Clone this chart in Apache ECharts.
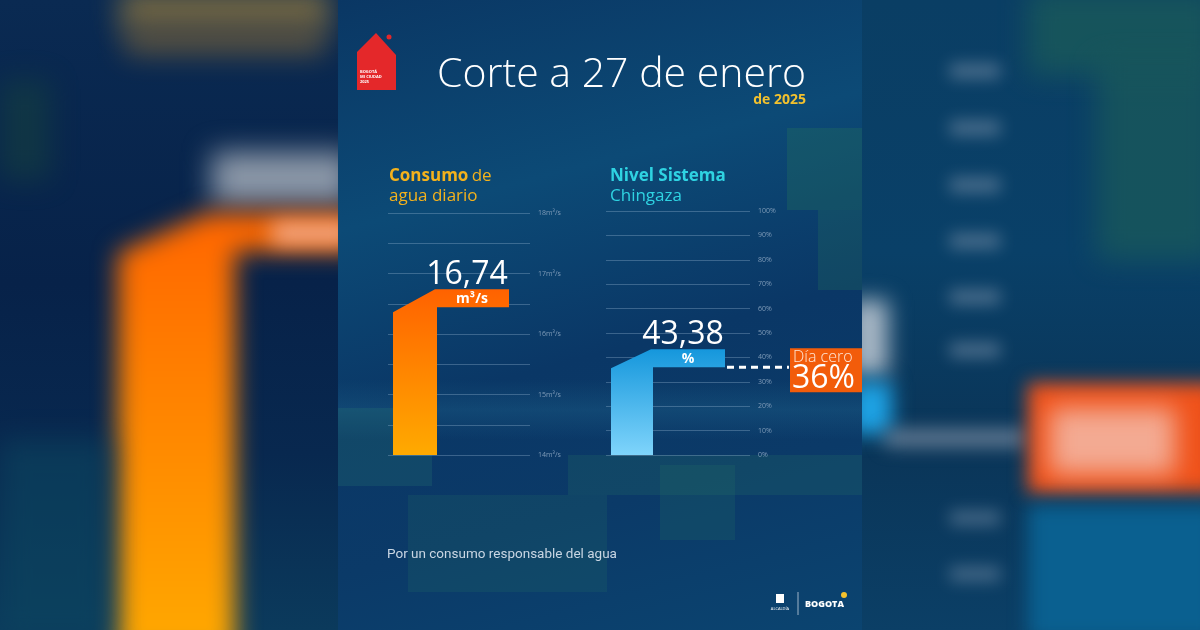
<!DOCTYPE html>
<html><head><meta charset="utf-8">
<script src="https://cdn.jsdelivr.net/npm/echarts/dist/echarts.min.js"></script>
<style>
html,body{margin:0;padding:0;width:1200px;height:630px;overflow:hidden;background:#07264b;}
#bg{position:absolute;left:0;top:0;width:1200px;height:630px;overflow:hidden;}
.a{position:absolute;}
.b{position:absolute;filter:blur(14px);}
#chart{position:absolute;left:0;top:0;width:1200px;height:630px;}
</style></head>
<body>
<div id="bg">
  <!-- left blurred side -->
  <div class="a" style="left:0;top:0;width:338px;height:630px;background:linear-gradient(180deg,#0a2a52 0%,#072249 45%,#08284f 72%,#0b3a5c 100%);"></div>
  <div class="b" style="left:0;top:80px;width:50px;height:100px;background:#15403f;opacity:.6"></div>
  <div class="b" style="left:120px;top:-10px;width:210px;height:40px;background:#8a7440;opacity:.8"></div>
  <div class="b" style="left:125px;top:28px;width:200px;height:26px;background:#6e5c3c;opacity:.8"></div>
  <div class="b" style="left:212px;top:152px;width:140px;height:52px;background:#8c98a8;"></div>
  <div class="b" style="left:0;top:0;width:338px;height:630px;filter:blur(12px)">
    <div class="a" style="left:118px;top:205px;width:240px;height:450px;background:linear-gradient(180deg,#ff6400 0%,#ff7a00 30%,#ffaa00 100%);clip-path:polygon(0px 48px,90px 8px,240px 8px,240px 46px,117px 46px,117px 450px,0px 450px);"></div>
  </div>
  <div class="b" style="left:272px;top:222px;width:80px;height:22px;background:#f2a886;filter:blur(10px)"></div>
  <div class="b" style="left:0;top:440px;width:110px;height:200px;background:#0c4660;opacity:.6"></div>
  <!-- right blurred side -->
  <div class="a" style="left:862px;top:0;width:338px;height:630px;background:linear-gradient(180deg,#0a3e64 0%,#094068 40%,#0a3558 70%,#0b3f66 100%);"></div>
  <div class="b" style="left:1028px;top:-10px;width:190px;height:85px;background:#1a5a5a;opacity:.8"></div>
  <div class="b" style="left:1097px;top:60px;width:120px;height:200px;background:#1a5a5a;opacity:.75"></div>
  <div class="b" style="left:950px;top:64px;width:50px;height:14px;background:#5f7d99;opacity:.8;filter:blur(8px)"></div>
  <div class="b" style="left:950px;top:121px;width:50px;height:14px;background:#5f7d99;opacity:.8;filter:blur(8px)"></div>
  <div class="b" style="left:950px;top:178px;width:50px;height:14px;background:#5f7d99;opacity:.8;filter:blur(8px)"></div>
  <div class="b" style="left:950px;top:234px;width:50px;height:14px;background:#5f7d99;opacity:.8;filter:blur(8px)"></div>
  <div class="b" style="left:950px;top:290px;width:50px;height:14px;background:#5f7d99;opacity:.8;filter:blur(8px)"></div>
  <div class="b" style="left:950px;top:343px;width:50px;height:14px;background:#5f7d99;opacity:.8;filter:blur(8px)"></div>
  <div class="b" style="left:950px;top:511px;width:50px;height:14px;background:#5f7d99;opacity:.7;filter:blur(8px)"></div>
  <div class="b" style="left:950px;top:567px;width:50px;height:14px;background:#5f7d99;opacity:.7;filter:blur(8px)"></div>
  <div class="b" style="left:850px;top:300px;width:38px;height:75px;background:#a9b8c6;filter:blur(11px)"></div>
  <div class="b" style="left:850px;top:382px;width:42px;height:52px;background:#1ea2e4;filter:blur(10px)"></div>
  <div class="b" style="left:885px;top:430px;width:140px;height:16px;background:#6a8098;filter:blur(9px)"></div>
  <div class="b" style="left:1028px;top:383px;width:190px;height:110px;background:#f0521a;filter:blur(9px)"></div>
  <div class="b" style="left:1050px;top:408px;width:125px;height:66px;background:#f3aa92;filter:blur(12px)"></div>
  <div class="b" style="left:1028px;top:505px;width:190px;height:135px;background:#0a6090;filter:blur(9px)"></div>
  <!-- center panel -->
  <div class="a" style="left:338px;top:0;width:524px;height:630px;background:linear-gradient(165deg,#0a3764 0%,#0c4a76 30%,#0a3766 55%,#0b3a68 75%,#0b4470 100%);"></div>
  <div class="a" style="left:338px;top:380px;width:524px;height:60px;background:linear-gradient(180deg,rgba(30,100,140,0) 0%,rgba(30,100,140,.35) 50%,rgba(30,100,140,0) 100%);"></div>
  <div class="a" style="left:787px;top:128px;width:75px;height:82px;background:rgba(40,120,90,.3)"></div>
  <div class="a" style="left:818px;top:210px;width:44px;height:80px;background:rgba(40,120,90,.25)"></div>
  <div class="a" style="left:338px;top:408px;width:94px;height:78px;background:rgba(40,120,110,.25)"></div>
  <div class="a" style="left:568px;top:455px;width:294px;height:40px;background:rgba(40,120,100,.22)"></div>
  <div class="a" style="left:408px;top:495px;width:199px;height:97px;background:rgba(40,120,100,.18)"></div>
  <div class="a" style="left:660px;top:465px;width:75px;height:75px;background:rgba(40,120,100,.2)"></div>
</div>
<div id="chart"></div>
<script>
// ---- data ----
const consumoCategories = ['Consumo de agua diario'];
const consumoValues = [16.74];
const consumoUnit = 'm³/s';
const consumoMin = 14, consumoMax = 18, consumoStep = 0.5;

const nivelCategories = ['Nivel Sistema Chingaza'];
const nivelValues = [43.38];
const nivelUnit = '%';
const nivelMin = 0, nivelMax = 100, nivelStep = 10;

const diaCeroValues = [36];
const diaCeroLabel = 'Día cero';

const chart = echarts.init(document.getElementById('chart'), null, {renderer: 'canvas'});
const FONT = "'Open Sans', 'Noto Sans', sans-serif";
const NARROW = "Roboto, 'Open Sans', sans-serif";

function fmt(v) { return String(v).replace('.', ','); }

function lBar(opt) {
  return function (params, api) {
    const cs = params.coordSys;
    const val = api.value(1);
    const top = api.coord([api.value(0), val])[1];
    const bottom = api.coord([api.value(0), opt.min])[1];
    const x0 = cs.x + 5, x1 = x0 + opt.colW, xe = x0 + opt.armEnd;
    const th = 18;
    const pts = [[x0, bottom], [x0, top + opt.drop], [x1 - 2, top], [xe, top], [xe, top + th], [x1, top + th], [x1, bottom]];
    const cx = (x1 + xe) / 2;
    return {
      type: 'group',
      children: [
        {type: 'polygon', shape: {points: pts}, style: {fill: new echarts.graphic.LinearGradient(0, 0, 0, 1, [{offset: 0, color: opt.c0}, {offset: 1, color: opt.c1}])}},
        {type: 'text', style: {text: fmt(val), x: cx - 6, y: top + 2, align: 'center', verticalAlign: 'bottom', fill: '#ffffff', font: '400 32px ' + FONT}},
        {type: 'text', style: {text: opt.unit, x: cx - 1, y: top + th / 2 + 1, align: 'center', verticalAlign: 'middle', fill: '#ffffff', font: '700 14px ' + FONT}}
      ]
    };
  };
}

function threshold(params, api) {
  const cs = params.coordSys;
  const v = api.value(1);
  const y = api.coord([api.value(0), v])[1];
  const xs = cs.x + 121;
  const bx = 790;
  return {
    type: 'group',
    children: [
      {type: 'line', shape: {x1: xs, y1: y, x2: bx - 1, y2: y}, style: {stroke: '#ffffff', lineWidth: 3, lineDash: [7, 5]}},
      {type: 'rect', shape: {x: bx, y: y - 19, width: 72, height: 44}, style: {fill: '#f25c0a'}},
      {type: 'text', style: {text: diaCeroLabel, x: bx + 3, y: y - 10, align: 'left', verticalAlign: 'middle', fill: '#ffe6d6', font: '300 16px ' + FONT}},
      {type: 'text', style: {text: fmt(v) + '%', x: bx + 2, y: y + 12, align: 'left', verticalAlign: 'middle', fill: '#ffffff', font: '400 32px ' + FONT}}
    ]
  };
}

const gridLine = {show: true, lineStyle: {color: 'rgba(150,180,210,0.35)', width: 1}};
const labelStyle = {color: '#7f9bb8', fontSize: 7, fontFamily: FONT, margin: 8};

chart.setOption({
  backgroundColor: 'transparent',
  animation: false,
  grid: [
    {left: 388, top: 213, width: 142, height: 242},
    {left: 606, top: 211, width: 144, height: 244}
  ],
  xAxis: [
    {type: 'category', gridIndex: 0, data: consumoCategories, show: false},
    {type: 'category', gridIndex: 1, data: nivelCategories, show: false}
  ],
  yAxis: [
    {type: 'value', gridIndex: 0, position: 'right', min: consumoMin, max: consumoMax, interval: consumoStep,
     axisLine: {show: false}, axisTick: {show: false}, splitLine: gridLine,
     axisLabel: Object.assign({formatter: v => Number.isInteger(v) ? v + 'm³/s' : ''}, labelStyle)},
    {type: 'value', gridIndex: 1, position: 'right', min: nivelMin, max: nivelMax, interval: nivelStep,
     axisLine: {show: false}, axisTick: {show: false}, splitLine: gridLine,
     axisLabel: Object.assign({formatter: v => v + '%'}, labelStyle)}
  ],
  series: [
    {type: 'custom', xAxisIndex: 0, yAxisIndex: 0, clip: false,
     renderItem: lBar({min: consumoMin, colW: 44, armEnd: 116, drop: 23, c0: '#ff6200', c1: '#ffaa00', unit: consumoUnit}),
     data: consumoValues.map((v, i) => [i, v])},
    {type: 'custom', xAxisIndex: 1, yAxisIndex: 1, clip: false,
     renderItem: lBar({min: nivelMin, colW: 42, armEnd: 114, drop: 19, c0: '#1597dc', c1: '#7fd4fb', unit: nivelUnit}),
     data: nivelValues.map((v, i) => [i, v])},
    {type: 'custom', xAxisIndex: 1, yAxisIndex: 1, clip: false, z: 5,
     renderItem: threshold,
     data: diaCeroValues.map((v, i) => [i, v])}
  ],
  graphic: [
    // logo
    {type: 'polygon', shape: {points: [[376, 33], [396, 55], [396, 90], [357, 90], [357, 52]]}, style: {fill: '#e4282a'}},
    {type: 'circle', shape: {cx: 389, cy: 37, r: 2.5}, style: {fill: '#e4282a'}},
    {type: 'text', style: {text: 'BOGOTÁ\nMI CIUDAD\n2025', x: 360, y: 69, fill: '#ffffff', font: '700 4px ' + FONT, lineHeight: 5}},
    // title
    {type: 'text', style: {text: 'Corte a 27 de enero', x: 437, y: 75, verticalAlign: 'middle', fill: '#ffffff', font: '300 41px ' + FONT}},
    {type: 'text', style: {text: 'de 2025', x: 806, y: 100, align: 'right', verticalAlign: 'middle', fill: '#f2c12e', font: '700 14px ' + FONT}},
    // headers
    {type: 'text', style: {text: '{b|Consumo} {r|de}\n{r|agua diario}', x: 389, y: 186, verticalAlign: 'middle',
      rich: {b: {fill: '#f4b21c', font: '700 17px ' + FONT, lineHeight: 20}, r: {fill: '#f4b21c', font: '400 17px ' + FONT, lineHeight: 20}}}},
    {type: 'text', style: {text: '{b|Nivel Sistema}\n{r|Chingaza}', x: 610, y: 186, verticalAlign: 'middle',
      rich: {b: {fill: '#2fd3e2', font: '700 17px ' + FONT, lineHeight: 20}, r: {fill: '#2fd3e2', font: '400 17px ' + FONT, lineHeight: 20}}}},
    // footer
    {type: 'text', style: {text: 'Por un consumo responsable del agua', x: 387, y: 555, verticalAlign: 'middle', fill: '#c9d6e3', font: '400 13.5px ' + NARROW}},
    {type: 'rect', shape: {x: 776, y: 594, width: 8, height: 9}, style: {fill: '#ffffff'}},
    {type: 'text', style: {text: 'ALCALDÍA', x: 780, y: 609, align: 'center', verticalAlign: 'middle', fill: '#ffffff', font: '400 4px ' + FONT}},
    {type: 'line', shape: {x1: 798, y1: 592, x2: 798, y2: 615}, style: {stroke: '#9fb4c8', lineWidth: 1}},
    {type: 'text', style: {text: 'BOGOTA', x: 805, y: 604, verticalAlign: 'middle', fill: '#ffffff', font: '800 9px ' + FONT}},
    {type: 'circle', shape: {cx: 844, cy: 595, r: 3}, style: {fill: '#f5c22c'}}
  ]
});
</script>
</body></html>
